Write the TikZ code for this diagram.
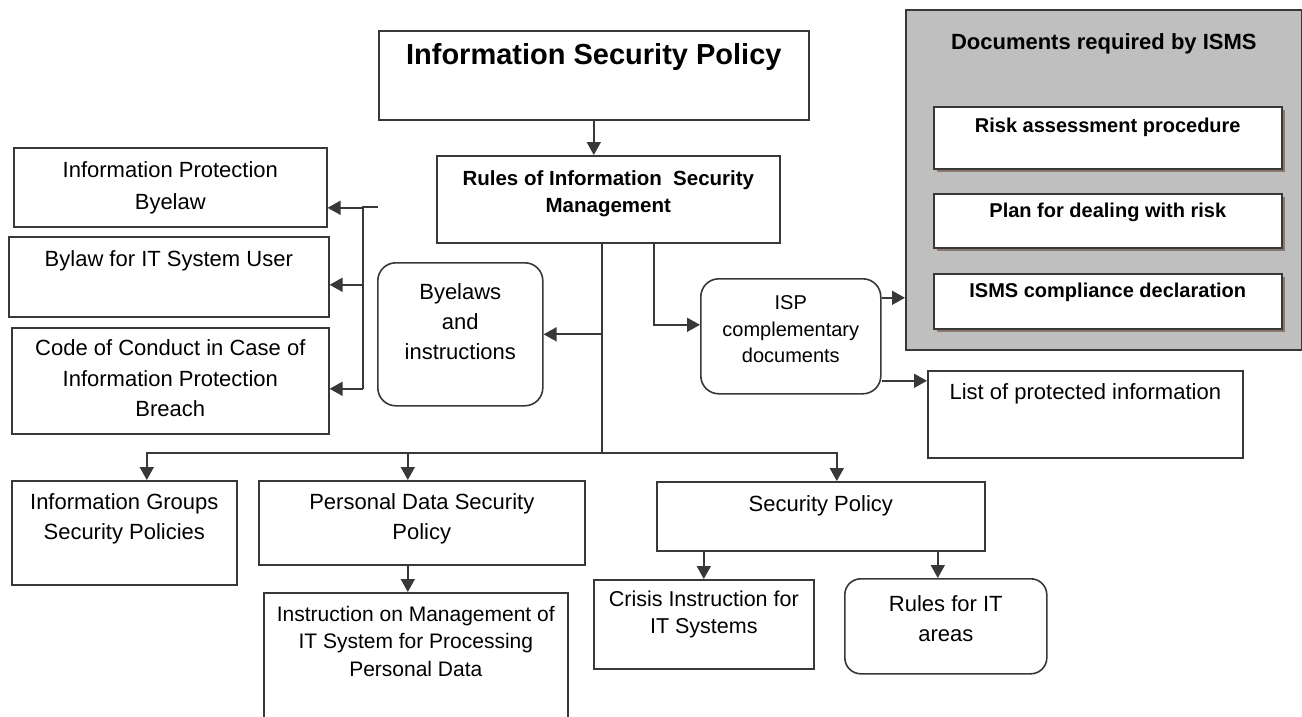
\documentclass[tikz,border=0pt]{standalone}
\usepackage{fontspec}
\setmainfont{Liberation Sans}
\usetikzlibrary{arrows.meta,shadows}
\definecolor{ismsgray}{rgb}{0.75,0.75,0.75}
\definecolor{linegray}{rgb}{0.22,0.22,0.22}
\definecolor{shadowbrown}{rgb}{0.45,0.36,0.30}
% width, height, gap above first line, text
\newcommand{\boxtext}[4]{\parbox[t][#2pt][t]{#1pt}{\centering\vspace*{#3pt}#4\par}}

\begin{document}
\begin{tikzpicture}[x=1pt,y=-1pt,
    box/.style={draw=linegray, line width=1.6pt, inner sep=0pt, anchor=north west, fill=white},
    rbox/.style={box, rounded corners=18pt},
    regtext/.style 2 args={font=\fontsize{#1}{#2}\selectfont},
    boldtext/.style 2 args={font=\fontsize{#1}{#2}\selectfont\bfseries},
    line/.style={draw=linegray, line width=1.7pt},
    arr/.style={line, -{Triangle[length=13pt,width=14pt]}},
    shade/.style={drop shadow={shadow xshift=3pt, shadow yshift=-3pt, fill=shadowbrown, opacity=.7}}
  ]
  \useasboundingbox (0,0) rectangle (1302,717);
  \clip (0,0) rectangle (1302,717);

  % top of the tree
  \node[box, boldtext={29}{34}] (ispol) at (378,30) {\boxtext{430}{89}{13}{Information Security Policy}};
  \node[box, boldtext={20.5}{27}] (rules) at (436,155) {\boxtext{343}{87}{15}{Rules of Information\ \ Security\\Management}};

  % left column
  \node[box, regtext={22}{32}] (ipb) at (13,147) {\boxtext{313}{79}{14}{Information Protection\\Byelaw}};
  \node[box, regtext={22}{30}] (usr) at (8,236) {\boxtext{320}{80}{14}{Bylaw for IT System User}};
  \node[box, regtext={22}{30.5}] (code) at (11,327) {\boxtext{317}{106}{12}{Code of Conduct in Case of\\Information Protection\\Breach}};
  \node[rbox, regtext={22}{30}] (byel) at (377,262) {\boxtext{165}{143}{21}{Byelaws\\and\\instructions}};

  % complementary documents
  \node[rbox, regtext={20}{26.5}] (ispc) at (700,278) {\boxtext{180}{115}{17}{ISP\\complementary\\documents}};
  \node[box, fill=ismsgray, boldtext={22}{26}] (isms) at (905,9) {\boxtext{396}{340}{24}{Documents required by ISMS}};
  \node[box, shade, boldtext={20}{24}] (risk) at (933,106) {\boxtext{348}{62}{11}{Risk assessment procedure}};
  \node[box, shade, boldtext={20}{24}] (plan) at (933,193) {\boxtext{348}{54}{9}{Plan for dealing with risk}};
  \node[box, shade, boldtext={20}{24}] (decl) at (933,273) {\boxtext{348}{55}{9}{ISMS compliance declaration}};
  \node[box, regtext={22}{30}] (list) at (927,370) {\boxtext{315}{87}{13}{List of protected information}};

  % bottom row
  \node[box, regtext={22}{30}] (infogr) at (11,480) {\boxtext{225}{104}{13}{Information Groups\\Security Policies}};
  \node[box, regtext={22}{30}] (pdsp) at (258,480) {\boxtext{326}{84}{13}{Personal Data Security\\Policy}};
  \node[box, regtext={21}{27.5}] (instr) at (263,592) {\boxtext{304}{160}{13}{Instruction on Management of\\IT System for Processing\\Personal Data}};
  \node[box, regtext={22}{30}] (secpol) at (656,481) {\boxtext{328}{69}{14}{Security Policy}};
  \node[box, regtext={21.5}{27}] (crisis) at (593,579) {\boxtext{220}{89}{11}{Crisis Instruction for\\IT Systems}};
  \node[rbox, rounded corners=16pt, regtext={22}{30}] (rit) at (844,578) {\boxtext{202}{95}{17}{Rules for IT\\areas}};

  % connectors
  \coordinate (fork) at (602,453);
  \coordinate (brtop) at (378,207);
  \coordinate (brx) at (363,207);
  \path ([yshift=-20.5pt]ipb.east) coordinate (ipbin)
        ([yshift=-8pt]usr.east) coordinate (usrin)
        ([yshift=-8pt]code.east) coordinate (codein)
        ([yshift=38.5pt]ispc.east) coordinate (ispcU)
        ([yshift=-44.5pt]ispc.east) coordinate (ispcD);

  \draw[arr] (ispol.south) -- (ispol.south |- rules.north);
  \draw[line] (rules.south -| fork) -- (fork);
  \draw[arr] (fork) -| ([xshift=22.5pt]infogr.north);
  \draw[arr] (fork) -| ([xshift=-14pt]pdsp.north);
  \draw[arr] (fork) -| ([xshift=16pt]secpol.north);
  \draw[arr] (fork |- byel.east) -- (byel.east);
  \draw[arr] ([xshift=45.5pt]rules.south) |- ([yshift=11.5pt]ispc.west);
  \draw[arr] (ispcU) -- (ispcU -| isms.west);
  \draw[arr] (ispcD) -- (ispcD -| list.west);
  \draw[arr] ([xshift=-14pt]pdsp.south) -- ([xshift=-14pt]pdsp.south |- instr.north);
  \draw[arr] ([xshift=-117pt]secpol.south) -- ([xshift=-117pt]secpol.south |- crisis.north);
  \draw[arr] ([xshift=117pt]secpol.south) -- ([xshift=117pt]secpol.south |- rit.north);

  % bracket to the byelaws on the left
  \draw[line] (brtop) -- (brx) -- (brx |- codein);
  \draw[arr] (brx |- ipbin) -- (ipbin);
  \draw[arr] (brx |- usrin) -- (usrin);
  \draw[arr] (brx |- codein) -- (codein);
\end{tikzpicture}
\end{document}
